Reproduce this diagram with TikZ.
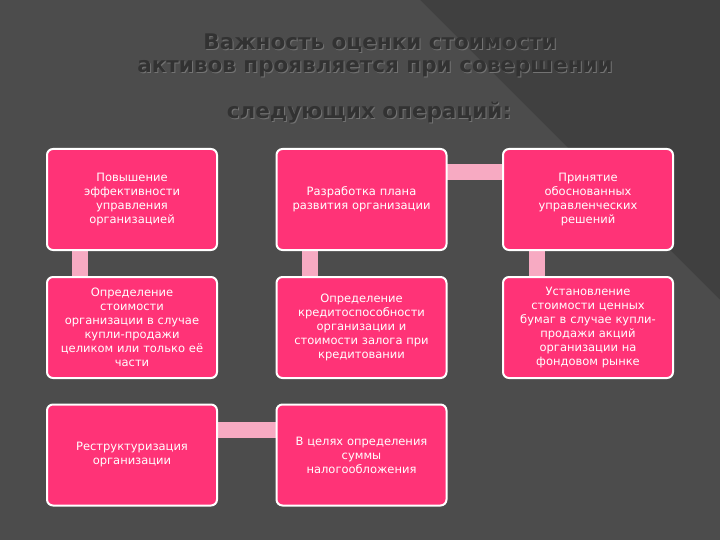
\documentclass[tikz,border=0pt]{standalone}
\usepackage{fontspec}
\setmainfont{DejaVu Sans}
\begin{document}
\begin{tikzpicture}[x=1pt,y=-1pt,
 box/.style={draw=white,line width=2pt,rounded corners=6pt,fill={rgb,255:red,255;green,51;blue,119},text=white,font=\fontsize{11.5}{14}\selectfont,align=center,minimum width=170pt,minimum height=101pt,text width=166pt,inner sep=2pt},
 link/.style={draw={rgb,255:red,247;green,170;blue,194},line width=16pt},
 ttl/.style={text={rgb,255:red,50;green,50;blue,50},font=\fontsize{21.5}{24}\selectfont\bfseries}]
\useasboundingbox (0,0) rectangle (720,540);
\fill[black!75] (0,0) rectangle (720,540);
\fill[black!70] (0,0) -- (420,0) -- (720,300) -- (720,540) -- (0,540) -- cycle;
\fill[white!30!black] (470,160) -- (720,300) -- (720,330) -- cycle;
\node[ttl,text=black!55] at (381,44) {Важность оценки стоимости};
\node[ttl] (t1) at (380,43) {Важность оценки стоимости};
\node[ttl,text=black!55] at (376,70) {активов проявляется при совершении};
\node[ttl] (t2) at (375,69) {активов проявляется при совершении};
\node[ttl,text=black!55] at (370,114) {следующих операций:};
\node[ttl] (t3) at (369,113) {следующих операций:};
\draw[link] (80,240) -- (80,290);
\draw[link] (310,240) -- (310,290);
\draw[link] (537,240) -- (537,290);
\draw[link] (435,172) -- (513,172);
\draw[link] (207,430) -- (288,430);
\node[box] (a1) at (132,199.5) {Повышение\\эффективности\\управления\\организацией};
\node[box] (a2) at (361.5,199.5) {Разработка плана\\развития организации};
\node[box] (a3) at (588,199.5) {Принятие\\обоснованных\\управленческих\\решений};
\node[box] (b1) at (132,327.5) {Определение\\стоимости\\организации в случае\\купли-продажи\\целиком или только её\\части};
\node[box] (b2) at (361.5,327.5) {Определение\\кредитоспособности\\организации и\\стоимости залога при\\кредитовании};
\node[box] (b3) at (588,327.5) {Установление\\стоимости ценных\\бумаг в случае купли-\\продажи акций\\организации на\\фондовом рынке};
\node[box] (c1) at (132,455) {Реструктуризация\\организации};
\node[box] (c2) at (361.5,455) {В целях определения\\суммы\\налогообложения};
\end{tikzpicture}
\end{document}
